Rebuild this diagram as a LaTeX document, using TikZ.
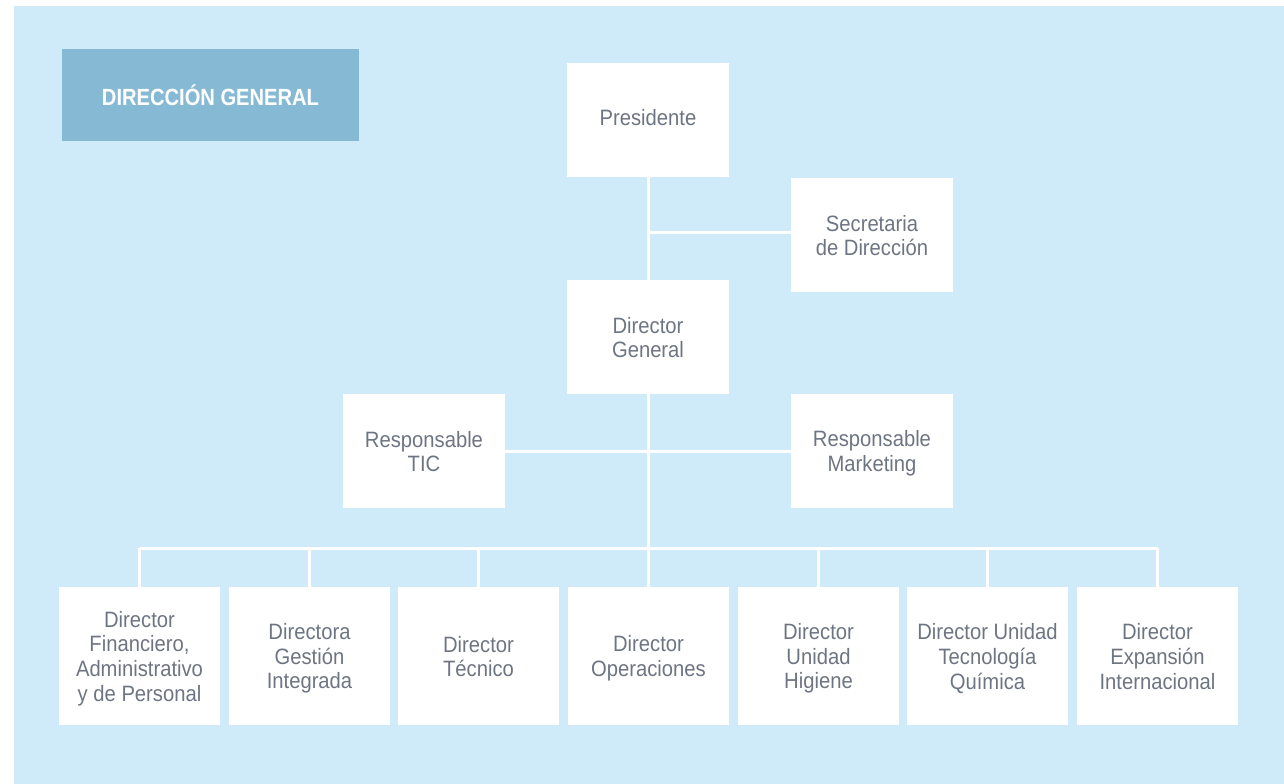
\documentclass[tikz,border=0pt]{standalone}
\usepackage{fontspec}
\setmainfont[FakeStretch=0.91]{Liberation Sans}
\newfontfamily\titlefont[FakeStretch=0.86]{Liberation Sans Bold}
\definecolor{bgblue}{HTML}{CFEAF8}
\definecolor{titleblue}{HTML}{86BAD4}
\definecolor{txtgray}{HTML}{6E7582}
\newcommand\lstrut{\rule[-4bp]{0pt}{25bp}}
\setlength{\lineskiplimit}{-100pt}
\tikzset{
  box/.style={fill=white, draw=none, inner sep=0pt, align=center, text=txtgray,
    minimum width=162bp, minimum height=114bp,
    font=\fontsize{22.3}{24.8}\selectfont},
  lowbox/.style={box, minimum width=161bp, minimum height=138bp},
  conn/.style={draw=white, line width=3bp},
}
\begin{document}
\begin{tikzpicture}[x=1bp,y=-1bp]
\useasboundingbox (0,0) rectangle (1284,784);
\fill[white] (0,0) rectangle (1284,784);
\fill[bgblue] (14,6) rectangle (1284,784);
\node[fill=titleblue, minimum width=297bp, minimum height=92bp, inner sep=0pt,
  text=white, font=\titlefont\fontsize{23.5}{26}\selectfont] (title) at (210.5,95) {DIRECCIÓN GENERAL};
\coordinate (j1) at (648,232);
\coordinate (bus) at (648,548);
\node[box] (pres) at (648,120) {\lstrut\raisebox{3bp}{Presidente}};
\node[box] (sec) at (872,235) {\lstrut Secretaria\\de Dirección\lstrut};
\node[box] (dg) at (648,337) {\lstrut Director\\General\lstrut};
\node[box] (tic) at (424,451) {\lstrut Responsable\\TIC\lstrut};
\node[box] (mkt) at (872,451) {\lstrut Responsable\\Marketing\lstrut};
\node[lowbox] (b1) at (139.5,656) {\lstrut Director\\Financiero,\\Administrativo\\y de Personal\lstrut};
\node[lowbox] (b2) at (309.5,656) {\lstrut Directora\\Gestión\\Integrada\lstrut};
\node[lowbox] (b3) at (478.5,656) {\lstrut Director\\Técnico\lstrut};
\node[lowbox] (b4) at (648.5,656) {\lstrut Director\\Operaciones\lstrut};
\node[lowbox] (b5) at (818.5,656) {\lstrut Director\\Unidad\\Higiene\lstrut};
\node[lowbox] (b6) at (987.5,656) {\lstrut Director Unidad\\Tecnología\\Química\lstrut};
\node[lowbox] (b7) at (1157.5,656) {\lstrut Director\\Expansión\\Internacional\lstrut};
\draw[conn] (pres.south) -- (dg.north);
\draw[conn] (j1) -- (j1 -| sec.west);
\draw[conn] (tic.east) -- (mkt.west);
\draw[conn] (dg.south) -- (bus);
\draw[conn] (b1.north |- bus) -- (b7.north |- bus);
\foreach \i in {1,...,7} {\draw[conn] (b\i.north |- bus) -- (b\i.north);}
\end{tikzpicture}
\end{document}
